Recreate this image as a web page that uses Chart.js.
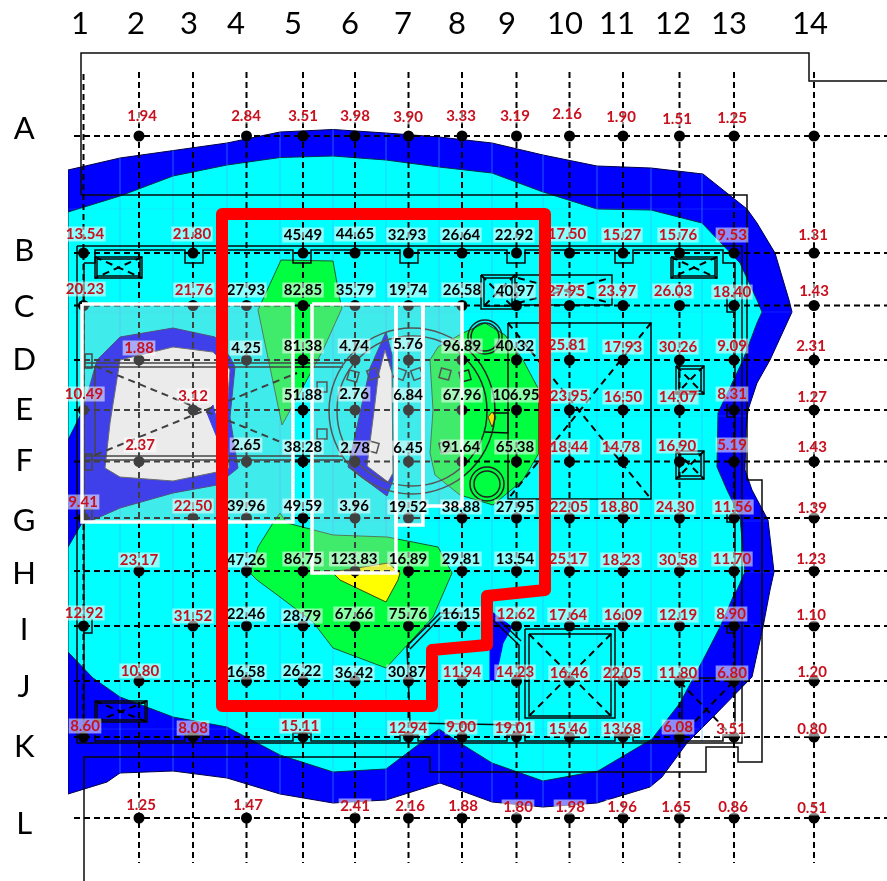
<!DOCTYPE html>
<html>
<head>
<meta charset="utf-8">
<title>Grid survey map</title>
<style>
    html, body { margin: 0; padding: 0; background: #fff; }
    canvas { display: block; }
</style>
<script src="https://cdn.jsdelivr.net/npm/chart.js@4/dist/chart.umd.min.js"></script>
</head>
<body>
<canvas id="surveyChart" width="887" height="881"></canvas>
<script>
// Axis names and where their tick labels sit
const colNames = ['1', '2', '3', '4', '5', '6', '7', '8', '9', '10', '11', '12', '13', '14'];
const rowNames = ['A', 'B', 'C', 'D', 'E', 'F', 'G', 'H', 'I', 'J', 'K', 'L'];
const colTicks = [80, 136, 189, 236, 293, 350, 403, 457, 507, 565, 617, 673, 729, 810];
const rowTicks = [129, 251, 307, 360, 410, 461, 521, 574, 630, 687, 747, 824];

// Grid line positions
const colX = [83.5, 139, 193, 246.5, 303, 355, 408.5, 462, 516.5, 569.5, 623, 679.5, 734, 814];
const rowY = [136, 253, 305.5, 360, 410, 461.5, 518, 571, 626, 681, 737, 818];

// Readings per row, one slot per column (null = no point)
const readingsA = [null, 1.94, null, 2.84, 3.51, 3.98, 3.90, 3.33, 3.19, 2.16, 1.90, 1.51, 1.25, null];
const readingsB = [13.54, null, 21.80, null, 45.49, 44.65, 32.93, 26.64, 22.92, 17.50, 15.27, 15.76, 9.53, 1.31];
const readingsC = [20.23, null, 21.76, 27.93, 82.85, 35.79, 19.74, 26.58, 40.97, 27.95, 23.97, 26.03, 18.40, 1.43];
const readingsD = [null, 1.88, null, 4.25, 81.38, 4.74, 5.76, 96.89, 40.32, 25.81, 17.93, 30.26, 9.09, 2.31];
const readingsE = [10.49, null, 3.12, null, 51.88, 2.76, 6.84, 67.96, 106.95, 23.95, 16.50, 14.07, 8.31, 1.27];
const readingsF = [null, 2.37, null, 2.65, 38.28, 2.78, 6.45, 91.64, 65.38, 18.44, 14.78, 16.90, 5.19, 1.43];
const readingsG = [9.41, null, 22.50, 39.96, 49.59, 3.96, 19.52, 38.88, 27.95, 22.05, 18.80, 24.30, 11.56, 1.39];
const readingsH = [null, 23.17, null, 47.26, 86.75, 123.83, 16.89, 29.81, 13.54, 25.17, 18.23, 30.58, 11.70, 1.23];
const readingsI = [12.92, null, 31.52, 22.46, 28.79, 67.66, 75.76, 16.15, 12.62, 17.64, 16.09, 12.19, 8.90, 1.10];
const readingsJ = [null, 10.80, null, 16.58, 26.22, 36.42, 30.87, 11.94, 14.23, 16.46, 22.05, 11.80, 6.80, 1.20];
const readingsK = [8.60, null, 8.08, null, 15.11, null, 12.94, 9.00, 19.01, 15.46, 13.68, 6.08, 3.51, 0.80];
const readingsL = [null, 1.25, null, 1.47, null, 2.41, 2.16, 1.88, 1.80, 1.98, 1.96, 1.65, 0.86, 0.51];
const allReadings = [readingsA, readingsB, readingsC, readingsD, readingsE, readingsF, readingsG, readingsH, readingsI, readingsJ, readingsK, readingsL];

// Point A14 has a marker but no number
const blankPoints = [[13, 0]];

// Black numbers sit inside the red outline: columns 4 up to this one, per row
const darkColEnd = [0, 9, 9, 9, 9, 9, 9, 9, 8, 7, 0, 0];

// Where each number sits, same order as the non-null readings of the row
const labelSpots = [
    [[142,116],[246,116],[303,116],[355,116],[408,117],[461,116],[515,116],[567,114],[621,117],[677,119],[732,118]],
    [[85,234],[192,234],[303,235],[355,234],[407,235],[461,235],[514,235],[567,234],[622,235],[678,235],[732,235],[813,235]],
    [[85,289],[194,290],[246,290],[303,290],[355,290],[408,290],[462,290],[515,291],[566,291],[617,291],[673,291],[732,292],[814,291]],
    [[139,348],[246,348],[303,346],[354,346],[408,344],[462,346],[515,346],[567,345],[623,347],[678,347],[732,346],[811,346]],
    [[84,394],[193,396],[303,395],[354,394],[408,395],[462,395],[516,395],[569,396],[623,397],[678,397],[732,394],[812,397]],
    [[140,445],[246,445],[303,447],[355,448],[408,448],[461,447],[515,447],[569,447],[621,447],[677,446],[732,445],[812,447]],
    [[83,502],[193,506],[246,506],[303,506],[354,506],[408,507],[461,507],[515,507],[569,507],[619,507],[675,507],[733,507],[812,508]],
    [[139,560],[246,560],[303,559],[354,559],[408,559],[461,559],[515,559],[568,559],[621,560],[678,560],[732,559],[811,559]],
    [[84,613],[193,616],[246,614],[302,616],[354,614],[408,614],[461,614],[516,614],[568,615],[623,615],[678,615],[731,614],[811,615]],
    [[140,671],[246,672],[302,671],[354,673],[407,672],[462,672],[515,672],[569,673],[622,673],[678,673],[732,673],[812,672]],
    [[85,726],[193,728],[300,726],[408,728],[461,727],[514,728],[568,729],[622,729],[678,727],[731,729],[812,729]],
    [[141,805],[248,805],[355,806],[410,806],[463,806],[518,807],[570,807],[622,807],[676,807],[733,807],[812,808]]
];

// Contour bands
const outerBand = [[68,170],[120,158],[227,143],[280,132],[333,129.5],[386,133],[439,137],[492,143],[543,155],[597,166],[651,168],[703,174],[747,209],[757,223],[775,253],[789,300],[792,312],[770,360],[757,383],[748,410],[746,430],[745,470],[752,490],[768,520],[774,572],[770,590],[763,627],[752,677],[707,723],[687,743],[662,777],[650,787],[597,803],[543,807],[492,802],[440,783],[386,800],[333,803],[280,794],[227,778],[173,771],[120,773],[107,782],[68,794],[68,170]];
const cyanBand = [[68,212],[120,196],[173,176],[227,165],[280,157.5],[333,156],[386,160],[439,167],[492,173],[543,192],[597,209],[651,210],[702,223],[740,263],[757,300],[762,312],[757,323],[743,360],[718,413],[717,467],[727,490],[740,517],[743,550],[745,572],[737,590],[733,597],[720,627],[703,660],[680,703],[652,739],[598,771],[543,781],[492,763],[460,743],[439,729],[386,769],[333,772],[280,755],[227,727],[173,717],[120,697],[93,678],[68,652],[68,212]];
const leftBlue = [[68,440],[83,410],[97,360],[120,337],[173,328],[215,337],[230,357],[235,367],[230,417],[238,468],[217,485],[173,493],[120,508],[93,520],[82,523],[68,547],[68,440]];
const leftWhite = [[120,360],[173,347],[213,352],[228,367],[230,370],[226,420],[229,468],[217,472],[173,481],[120,477],[105,468],[110,423],[120,360]];
const leftWedge = [[207,413],[213,405],[222,440],[218,440],[207,413]];
const sliverBlue = [[386,332],[392,355],[393,480],[387,496],[348,467],[370,368],[386,332]];
const sliverWhite = [[385,350],[392,373],[393,473],[388,482],[367,466],[375,403],[378,377],[385,350]];
const notchBlue = [[492,612],[512,627],[503,643],[495,680],[490,680],[490,640],[492,612]];
const greenTop = [[281,260],[333,261],[340,300],[342,308],[323,350],[303,387],[282,425],[258,310],[281,260]];
const greenRight = [[430,360],[438,347],[463,333],[485,323],[505,335],[523,360],[539,390],[539,453],[523,480],[493,505],[460,495],[435,475],[430,453],[433,410],[430,360]];
const greenBottom = [[273,523],[280,513],[287,523],[333,535],[387,537],[438,547],[452,573],[433,617],[386,668],[333,648],[313,622],[280,597],[257,580],[250,573],[258,547],[273,523]];
const yellowCore = [[332,572],[388,563],[400,573],[398,580],[386,602],[340,580],[332,572]];
const yellowMark = [[492,412],[496,417],[492,427],[488,417],[492,412]];

// Faint mesh of the contour plot: [x, top, bottom] and [y, left, right]
const meshCols = [[120,158,773],[173,150,771],[227,143,778],[280,132,794],[333,129,803],[386,133,800],[439,137,783],[492,143,802],[543,155,807],[597,166,803],[651,168,787],[702,174,742]];
const meshRows = [[209,68,747],[312,68,792],[416,68,748],[521,68,768],[572,68,774],[625,68,763],[729,68,700]];

// Building outline
const wallLines = [
    [[81,195],[81,53],[809,53],[809,81],[887,81]],
    [[81,195],[747,195],[747,480],[762,480],[762,762],[738,762],[738,747],[706,747],[706,772],[430,772],[430,757],[84,757],[84,881]],
    [[77,246],[742,246],[742,743],[77,743],[77,246]],
    [[84,263],[95,263],[95,250],[185,250],[185,263],[203,263],[203,250],[293,250],[293,263],[311,263],[311,250],[400,250],[400,263],[418,263],[418,250],[507,250],[507,263],[525,263],[525,250],[615,250],[615,263],[633,263],[633,250],[723,250],[723,263],[735,263],[735,725]],
    [[95,735],[95,741],[185,741],[185,735],[203,735],[203,741],[293,741],[293,733],[311,733],[311,741],[400,741],[400,735],[418,735],[418,741],[507,741],[507,735],[525,735],[525,741],[615,741],[615,735],[633,735],[633,741],[723,741],[723,735],[735,735]],
    [[84,263],[84,735]],
    [[82,363],[343,363]], [[82,367],[343,367]],
    [[82,456],[343,456]], [[82,460],[343,460]],
    [[95,366],[95,456]],
    [[727,298],[727,312],[734,312]], [[727,404],[727,417],[734,417]], [[727,514],[727,522],[734,522]], [[727,627],[727,633],[734,633]],
    [[83,633],[92,633],[92,619]],
    [[680,678],[742,678]], [[682,682],[682,737]],
    [[493,413],[508,413],[508,433],[485,432]],
    [[493,620],[519,645],[519,725],[410,723],[407,647],[408,645],[440,613],[461,613]],
    [[495,616],[521,641]], [[410,649],[442,616]],
    [[515,275],[612,275],[612,305],[515,305]]
];
const wallBoxes = [
    [95,257,142,278], [97,259,140,276], [671,257,717,278], [673,259,715,276], [95,701,147,722], [97,703,145,720],
    [481,275,515,309], [484,278,512,306], [508,323,651,499], [676,366,704,394], [679,369,701,391], [676,451,704,479], [679,454,701,476],
    [525,629,615,718], [529,634,611,716], [85,354,92,368], [85,454,92,470], [85,509,92,522]
];
const crossedLines = [
    [[95,257],[142,278]], [[142,257],[95,278]], [[671,257],[717,278]], [[717,257],[671,278]], [[95,701],[147,722]], [[147,701],[95,722]],
    [[481,275],[515,309]], [[515,275],[481,309]], [[518,278],[610,303]], [[518,303],[610,278]],
    [[508,323],[651,499]], [[651,323],[508,499]], [[676,366],[704,394]], [[704,366],[676,394]], [[676,451],[704,479]], [[704,451],[676,479]],
    [[529,634],[611,716]], [[611,634],[529,716]], [[680,682],[733,737]], [[733,682],[680,737]],
    [[95,366],[283,443]], [[95,455],[297,373]]
];
// Round features: centre and radius
const ringCenters = [[412,411],[412,411],[485,337],[485,337],[487,484],[487,484]];
const ringRadii = [83, 75, 14, 17, 13, 17];
// Small pier blocks inside the round feature
const pierCenters = [[353,376],[373,374],[400,374],[417,374],[445,374],[465,376],[322,387],[322,434],[373,447],[445,447]];
const pierTurns = [15, -20, 20, -20, 15, -15, 0, 0, 15, -15];

// White survey patches and the red boundary
const patchRects = [[82,304,293,522], [312,304,396,573], [396,304,423,525], [423,304,462,506]];
const redOutline = [[222,214],[545,214],[545,590],[487,596],[487,645],[432,650],[432,706],[222,706],[222,214]];

const TEXT_RED = '#c8101e';
const toPoints = list => list.map(([x, y]) => ({ x, y }));
const boxPath = ([x1, y1, x2, y2]) => [[x1, y1], [x2, y1], [x2, y2], [x1, y2], [x1, y1]];

// Datasets are pushed bottom layer first, the order field is set at the end
const layers = [];

function addArea(list, color, edge, edgeWidth) {
    layers.push({
        data: toPoints(list), showLine: true, pointRadius: 0, tension: 0, fill: 'shape',
        backgroundColor: color, borderColor: edge || color, borderWidth: edgeWidth === undefined ? 1 : edgeWidth
    });
}

function addLine(list, color, width, dash) {
    layers.push({
        data: toPoints(list), showLine: true, pointRadius: 0, tension: 0, fill: false,
        borderColor: color, borderWidth: width, borderDash: dash || [], borderCapStyle: 'butt'
    });
}

addArea(outerBand, '#0000ff', '#00004a');
addArea(cyanBand, '#00ffff', '#00304a');
meshCols.forEach(([x, top, bottom]) => addLine([[x, top], [x, bottom]], 'rgba(70,170,255,0.2)', 1));
meshRows.forEach(([y, left, right]) => addLine([[left, y], [right, y]], 'rgba(70,170,255,0.2)', 1));
addArea(leftBlue, '#0000ff', '#1a1a5a');
addArea(leftWhite, '#ffffff', '#444444');
addArea(leftWedge, '#0000ff');
addArea(sliverBlue, '#0000ff', '#1a1a5a');
addArea(sliverWhite, '#ffffff', '#444444');
addArea(notchBlue, '#0000ff');
addArea(greenTop, '#00ff40', '#1f5a2a');
addArea(greenRight, '#00ff40', '#1f5a2a');
addArea(greenBottom, '#00ff40', '#1f5a2a');
addArea(yellowCore, '#ffff00', '#404000');
addArea(yellowMark, '#ffdd00', '#554400');

wallLines.forEach(line => addLine(line, '#0a0a0a', 1.5));
wallBoxes.forEach(box => addLine(boxPath(box), '#0a0a0a', 1.5));

layers.push({
    label: 'rings', data: toPoints(ringCenters), pointStyle: 'circle', pointRadius: ringRadii,
    pointBackgroundColor: 'transparent', pointBorderColor: '#222222', pointBorderWidth: 1.5, showLine: false
});
layers.push({
    label: 'piers', data: toPoints(pierCenters), pointStyle: 'rect', pointRadius: 7, pointRotation: pierTurns,
    pointBackgroundColor: 'transparent', pointBorderColor: '#222222', pointBorderWidth: 1.5, showLine: false
});

crossedLines.forEach(line => addLine(line, '#000000', 2, [7, 5]));

// Grid
colX.forEach((x, i) => addLine([[x, i === 0 ? 74 : 72], [x, i === 0 ? 740 : 863]], '#000000', 2, [6, 4]));
rowY.forEach(y => addLine([[74, y], [887, y]], '#000000', 2, [6, 4]));

// Points
const pointList = [];
allReadings.forEach((row, r) => row.forEach((value, c) => {
    if (value !== null) pointList.push({ x: colX[c], y: rowY[r] });
}));
blankPoints.forEach(([c, r]) => pointList.push({ x: colX[c], y: rowY[r] }));
layers.push({
    label: 'readings', data: pointList, pointStyle: 'circle', pointRadius: 5.5,
    pointBackgroundColor: '#000000', pointBorderWidth: 0, showLine: false
});

// Translucent survey patches go over the points
patchRects.forEach(rect => addArea(boxPath(rect), 'rgba(194,194,194,0.33)', '#ffffff', 3.5));
layers.push({ label: 'numbers', data: [], showLine: false });

// Red boundary on top of everything
layers.push({
    data: toPoints(redOutline), showLine: true, pointRadius: 0, tension: 0, fill: false,
    borderColor: '#ff0000', borderWidth: 12, borderJoinStyle: 'round', borderCapStyle: 'round'
});

layers.forEach((layer, i) => { layer.order = layers.length - i; });

// Draws the number with its pale highlight right after the 'numbers' layer
const numberLabels = {
    id: 'numberLabels',
    afterDatasetDraw(chart, args) {
        if (chart.data.datasets[args.index].label !== 'numbers') return;
        const { ctx, scales } = chart;
        ctx.save();
        ctx.font = 'bold 15px Lato';
        ctx.textAlign = 'center';
        ctx.textBaseline = 'middle';
        allReadings.forEach((row, r) => {
            let n = 0;
            row.forEach((value, c) => {
                if (value === null) return;
                const [sx, sy] = labelSpots[r][n++];
                const px = scales.x.getPixelForValue(sx);
                const py = scales.y.getPixelForValue(sy);
                const text = value.toFixed(2);
                const w = ctx.measureText(text).width + 3;
                ctx.fillStyle = 'rgba(255,255,255,0.55)';
                ctx.fillRect(px - w / 2, py - 7.5, w, 15);
                ctx.fillStyle = c >= 3 && c < darkColEnd[r] ? '#000000' : TEXT_RED;
                ctx.fillText(text, px, py);
            });
        });
        ctx.restore();
    }
};

new Chart(document.getElementById('surveyChart').getContext('2d'), {
    type: 'scatter',
    data: { datasets: layers },
    plugins: [numberLabels],
    options: {
        responsive: false,
        animation: false,
        events: [],
        layout: { padding: 0, autoPadding: false },
        plugins: { legend: { display: false }, tooltip: { enabled: false } },
        elements: { line: { borderJoinStyle: 'miter' } },
        scales: {
            x: {
                type: 'linear',
                position: 'top',
                min: 68,
                max: 887,
                grid: { display: false, drawTicks: false },
                border: { display: false },
                afterBuildTicks: axis => { axis.ticks = colTicks.map(value => ({ value })); },
                afterFit: axis => { axis.height = 48; axis.paddingLeft = 0; axis.paddingRight = 0; },
                ticks: {
                    autoSkip: false,
                    maxRotation: 0,
                    padding: 5,
                    color: '#000000',
                    font: { family: 'Lato', size: 31 },
                    callback: (value, i) => colNames[i]
                }
            },
            y: {
                type: 'linear',
                reverse: true,
                min: 48,
                max: 881,
                grid: { display: false, drawTicks: false },
                border: { display: false },
                afterBuildTicks: axis => { axis.ticks = rowTicks.map(value => ({ value })); },
                // tick padding also ends up as top/bottom padding of the axis, drop it
                afterFit: axis => { axis.width = 68; axis.paddingTop = 0; axis.paddingBottom = 0; },
                ticks: {
                    autoSkip: false,
                    crossAlign: 'center',
                    padding: 32,
                    color: '#000000',
                    font: { family: 'Lato', size: 31 },
                    callback: (value, i) => rowNames[i]
                }
            }
        }
    }
});
</script>
</body>
</html>
